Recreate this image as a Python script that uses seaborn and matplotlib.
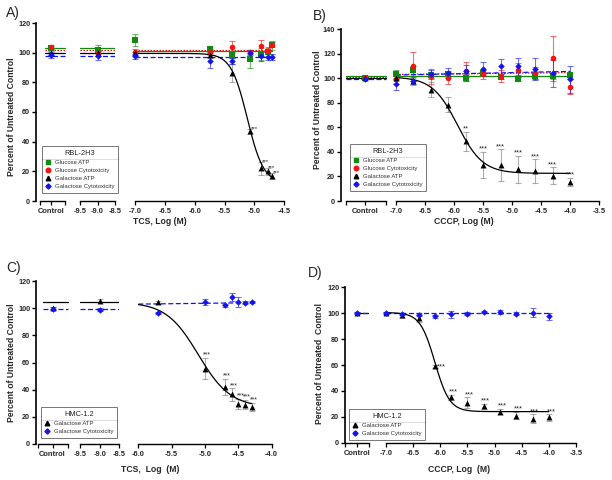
import numpy as np
import matplotlib
matplotlib.use("Agg")
import matplotlib.pyplot as plt
from matplotlib.lines import Line2D
import seaborn as sns

# Figure size in pixels (dpi 100)
W, H = 612, 480

# ---- series styles ----
SERIES = ["Glucose ATP", "Glucose Cytotoxicity", "Galactose ATP", "Galactose Cytotoxicity"]
COLORS = {"Glucose ATP": "#128a12", "Glucose Cytotoxicity": "#f01414",
          "Galactose ATP": "#000000", "Galactose Cytotoxicity": "#1414ee"}
MARKERS = {"Glucose ATP": "s", "Glucose Cytotoxicity": "o", "Galactose ATP": "^", "Galactose Cytotoxicity": "D"}
SIZES = {"Glucose ATP": 14, "Glucose Cytotoxicity": 16, "Galactose ATP": 18, "Galactose Cytotoxicity": 11}
LINESTYLES = {"Glucose ATP": "-", "Glucose Cytotoxicity": (0, (1.2, 1.2)),
              "Galactose ATP": "-", "Galactose Cytotoxicity": (0, (4, 2))}

# ---- Panel A: TCS, RBL-2H3 ----
A_X = [-7.0, -5.75, -5.37, -5.07, -4.89, -4.78, -4.70]
A_GLC_ATP = [108.5, 102.5, 98.5, 95.5, 99.0, 100.5, 105.0]
A_GLC_ATP_SD = [4, 1.5, 2, 6, 4, 3, 3]
A_GLC_CYT = [100.5, 100.5, 104.0, 100.5, 104.5, 101.0, 105.5]
A_GLC_CYT_SD = [2, 2, 4, 1.5, 4, 2, 2]
A_GAL_ATP = [99.5, 98.5, 86.5, 47.0, 22.0, 20.0, 17.0]
A_GAL_ATP_SD = [1, 2, 6, 1.5, 4.5, 2.5, 2]
A_GAL_CYT = [97.5, 94.5, 94.5, 100.0, 97.5, 97.0, 97.0]
A_GAL_CYT_SD = [1.5, 5, 2, 1.5, 3, 2, 2]
A_CTRL = [103.0, 104.0, 100.0, 98.5]
A_CTRL_SD = [1.5, 1.5, 1, 2]
A_LOW = [101.5, 100.0, 100.0, 98.0]      # at -9.0
A_LOW_SD = [4, 2, 1, 3]
A_SEG_FIT = [103.0, 101.5, 99.5, 98.0]   # fit levels drawn in the broken segments
A_MAIN_FIT = {"Glucose ATP": (101.0, 101.0), "Glucose Cytotoxicity": (102.0, 102.0),
              "Galactose Cytotoxicity": (97.0, 97.0)}
A_CURVE = (99.5, 12.0, -5.12, 3.2)       # top, bottom, logIC50, hill
A_STARS = ["***", "***", "***", "***"]
A_STAR_X = [-5.07, -4.89, -4.78, -4.70]

# ---- Panel B: CCCP, RBL-2H3 ----
B_X = [-7.0, -6.7, -6.4, -6.1, -5.8, -5.5, -5.2, -4.9, -4.6, -4.3, -4.0]
B_GLC_ATP = [103.5, 106.5, 102.5, 103.0, 100.5, 104.5, 101.0, 99.5, 101.5, 101.5, 102.5]
B_GLC_ATP_SD = [3, 3, 2, 2, 3, 2, 2, 1.5, 2, 2, 2]
B_GLC_CYT = [99.5, 109.5, 101.5, 100.5, 105.5, 103.0, 102.0, 107.0, 104.0, 116.0, 93.0]
B_GLC_CYT_SD = [4, 12, 6, 5, 8, 4, 5, 5, 5, 18, 6]
B_GAL_ATP = [100.5, 97.5, 90.5, 78.5, 48.5, 29.5, 29.0, 26.0, 24.5, 20.5, 15.5]
B_GAL_ATP_SD = [2, 3, 6, 6, 8, 10.5, 13, 11, 9.5, 7, 3.5]
B_GAL_CYT = [95.0, 98.0, 103.0, 104.0, 106.0, 107.5, 109.5, 109.5, 107.5, 104.0, 99.0]
B_GAL_CYT_SD = [4.5, 3, 4, 4, 5, 6, 6, 7, 9, 11, 11]
B_CTRL = [100.5, 100.0, 100.0, 99.5]
B_CTRL_SD = [1, 1, 1, 1]
B_SEG_FIT = [101.5, 100.8, 100.5, 99.0]
B_MAIN_FIT = {"Glucose ATP": (102.0, 102.0), "Glucose Cytotoxicity": (103.0, 104.5),
              "Galactose Cytotoxicity": (102.5, 105.5)}
B_CURVE = (101.0, 22.5, -5.94, 2.0)
B_STARS = ["**", "***", "***", "***", "***", "***", "***"]
B_STAR_X = [-5.8, -5.5, -5.2, -4.9, -4.6, -4.3, -4.0]

# ---- Panel C: TCS, HMC-1.2 ----
C_X = [-5.7, -5.0, -4.7, -4.6, -4.5, -4.4, -4.3]
C_GAL_ATP = [104.3, 55.5, 42.0, 36.5, 29.5, 29.0, 27.5]
C_GAL_ATP_SD = [1, 8, 6, 4.5, 3.5, 3.5, 3]
C_GAL_CYT = [96.5, 104.5, 102.0, 108.5, 104.5, 104.0, 104.5]
C_GAL_CYT_SD = [1, 2.5, 1, 3, 3.5, 1, 1]
C_CTRL = [100.0, 99.5]
C_CTRL_SD = [1, 1]
C_LOW = [105.5, 99.0]
C_LOW_SD = [1, 1]
C_SEG_FIT = [104.8, 99.3]
C_MAIN_FIT = {"Galactose Cytotoxicity": (103.0, 104.0)}
C_CURVE = (104.5, 27.0, -5.1, 1.8)
C_STARS = ["***"] * 6
C_STAR_X = [-5.0, -4.7, -4.6, -4.5, -4.4, -4.3]

# ---- Panel D: CCCP, HMC-1.2 ----
D_X = [-7.0, -6.7, -6.4, -6.1, -5.8, -5.5, -5.2, -4.9, -4.6, -4.3, -4.0]
D_GAL_ATP = [100.0, 98.5, 96.0, 59.0, 35.0, 31.0, 28.0, 24.0, 21.0, 18.5, 19.5]
D_GAL_ATP_SD = [1, 2, 3, 1, 2, 4, 2, 2, 3, 3.5, 2.5]
D_GAL_CYT = [100.0, 99.5, 98.8, 97.6, 99.0, 99.6, 100.8, 101.2, 99.7, 100.4, 97.6]
D_GAL_CYT_SD = [1, 1, 1, 1, 2.5, 1, 1, 1.5, 1, 3.5, 2.5]
D_CTRL = [100.0, 100.0]
D_CTRL_SD = [1, 1]
D_SEG_FIT = [100.5, 100.0]
D_MAIN_FIT = {"Galactose Cytotoxicity": (99.8, 99.8)}
D_CURVE = (100.5, 24.0, -6.1, 3.2)
D_STARS = ["***"] * 8
D_STAR_X = [-6.1, -5.8, -5.5, -5.2, -4.9, -4.6, -4.3, -4.0]

sns.set_theme(style="ticks")
plt.rcParams["font.family"] = ["Liberation Sans", "DejaVu Sans"]
plt.rcParams["axes.unicode_minus"] = False

fig = plt.figure(figsize=(W / 100, H / 100), dpi=100)


def make_axes(left, right, top, bottom):
    return fig.add_axes([left / W, 1 - bottom / H, (right - left) / W, (bottom - top) / H])


def style_axes(ax, ylim, xlim, ticks, labels, bounds, left=False, yticks=None):
    ax.set_xlim(*xlim)
    ax.set_ylim(*ylim)
    ax.patch.set_alpha(0)
    for s in ["top", "right"]:
        ax.spines[s].set_visible(False)
    ax.spines["bottom"].set_bounds(*bounds)
    ax.spines["bottom"].set_linewidth(1.0)
    ax.spines["bottom"].set_color("black")
    ax.set_xticks(ticks)
    ax.set_xticklabels(labels, fontsize=5.4, fontweight="bold")
    ax.set_xticks(list(bounds), minor=True)
    ax.tick_params(axis="x", which="both", length=3, width=0.9, pad=2, color="black")
    if left:
        ax.spines["left"].set_linewidth(1.2)
        ax.spines["left"].set_color("black")
        ax.set_yticks(yticks)
        ax.set_yticklabels([str(v) for v in yticks], fontsize=5.2, fontweight="bold")
        ax.tick_params(axis="y", length=3, width=1.0, pad=1.2, color="black")
    else:
        ax.spines["left"].set_visible(False)
        ax.set_yticks([])
    ax.set_xlabel("")
    ax.set_ylabel("")


def draw_points(ax, x, y, err, name):
    c = COLORS[name]
    ecol = "#777777" if name == "Galactose ATP" else c
    ax.errorbar(x, y, yerr=err, fmt="none", ecolor=ecol, alpha=0.6, elinewidth=0.8,
                capsize=2.0, capthick=0.8, clip_on=False, zorder=2)
    sns.scatterplot(x=x, y=y, ax=ax, color=c, marker=MARKERS[name], s=SIZES[name],
                    linewidth=0, clip_on=False, zorder=4, legend=False)


def draw_flat(ax, x0, x1, y0, y1, name):
    sns.lineplot(x=[x0, x1], y=[y0, y1], ax=ax, color=COLORS[name], linestyle=LINESTYLES[name],
                 linewidth=0.9, zorder=3, sort=False, errorbar=None)


def draw_curve(ax, x0, x1, params):
    top, bottom, logec, hill = params
    xs = np.linspace(x0, x1, 200)
    ys = bottom + (top - bottom) / (1 + 10 ** ((xs - logec) * hill))
    sns.lineplot(x=xs, y=ys, ax=ax, color="black", linewidth=0.9, zorder=3, sort=False, errorbar=None)


def draw_stars(ax, xs, texts, xvals, yvals, errs, mode, dx=0, dy=0.5, size=5.4):
    for xv, t in zip(xs, texts):
        i = xvals.index(xv)
        if mode == "right":
            xy, ha = (xv, yvals[i]), "left"
        elif mode == "topright":
            xy, ha = (xv, yvals[i] + errs[i]), "left"
        else:
            xy, ha = (xv, yvals[i] + errs[i]), "center"
        ax.annotate(t, xy, xytext=(dx, dy), textcoords="offset points", fontsize=size,
                    ha=ha, va="bottom", color="#222222", zorder=5)


def add_legend(names, title, x, y):
    handles = [Line2D([], [], marker=MARKERS[n], color=COLORS[n], linestyle="none",
                      markersize=3.3 if n != "Galactose Cytotoxicity" else 2.6) for n in names]
    leg = fig.legend(handles, names, title=title, loc="upper left",
                     bbox_to_anchor=(x / W, 1 - y / H), frameon=True, fancybox=False,
                     edgecolor="#555555", fontsize=4.3, title_fontsize=5.3,
                     handlelength=0.8, handletextpad=0.7, borderpad=0.6,
                     labelspacing=0.5, borderaxespad=0)
    leg.get_frame().set_linewidth(0.7)
    leg.get_title().set_color("#222222")
    for t in leg.get_texts():
        t.set_color("#333333")
    return leg


XLAB_STYLE = dict(fontsize=6.2, fontweight="bold", ha="center", va="center")

# ================= Panel A =================
ylimA = (0, 120)
a1 = make_axes(36, 66, 23, 201)
a2 = make_axes(80, 115, 23, 201)
a3 = make_axes(135, 284.3, 23, 201)
style_axes(a1, ylimA, (-1, 1), [0], ["Control"], (-0.73, 0.93), left=True, yticks=list(range(0, 121, 20)))
style_axes(a2, ylimA, (-9.5, -8.5), [-9.5, -9.0, -8.5], ["-9.5", "-9.0", "-8.5"], (-9.5, -8.5))
tA = [-7.0, -6.5, -6.0, -5.5, -5.0, -4.5]
style_axes(a3, ylimA, (-7.0, -4.5), tA, [f"{t:.1f}" for t in tA], (-7.0, -4.5))

A_DATA = {"Glucose ATP": (A_GLC_ATP, A_GLC_ATP_SD), "Glucose Cytotoxicity": (A_GLC_CYT, A_GLC_CYT_SD),
          "Galactose ATP": (A_GAL_ATP, A_GAL_ATP_SD), "Galactose Cytotoxicity": (A_GAL_CYT, A_GAL_CYT_SD)}
for i, n in enumerate(SERIES):
    draw_flat(a1, -0.4, 0.93, A_SEG_FIT[i], A_SEG_FIT[i], n)
    draw_flat(a2, -9.5, -8.5, A_SEG_FIT[i], A_SEG_FIT[i], n)
    if n in A_MAIN_FIT:
        draw_flat(a3, -7.0, A_X[-1], *A_MAIN_FIT[n], n)
draw_curve(a3, -7.0, A_X[-1], A_CURVE)
for i, n in enumerate(SERIES):
    draw_points(a1, [0], [A_CTRL[i]], [A_CTRL_SD[i]], n)
    draw_points(a2, [-9.0], [A_LOW[i]], [A_LOW_SD[i]], n)
    draw_points(a3, A_X, *A_DATA[n], n)
draw_stars(a3, A_STAR_X, A_STARS, A_X, A_GAL_ATP, A_GAL_ATP_SD, "topright", dx=0.3, dy=-1.5, size=4.5)

# ================= Panel B =================
ylimB = (0, 140)
b1 = make_axes(341, 389, 29, 201)
b2 = make_axes(396, 599.3, 29, 201)
style_axes(b1, ylimB, (-1, 1), [0], ["Control"], (-0.79, 0.875), left=True, yticks=list(range(0, 141, 20)))
tB = [-7.0, -6.5, -6.0, -5.5, -5.0, -4.5, -4.0, -3.5]
style_axes(b2, ylimB, (-7.0, -3.5), tB, [f"{t:.1f}" for t in tB], (-7.0, -3.5))

B_DATA = {"Glucose ATP": (B_GLC_ATP, B_GLC_ATP_SD), "Glucose Cytotoxicity": (B_GLC_CYT, B_GLC_CYT_SD),
          "Galactose ATP": (B_GAL_ATP, B_GAL_ATP_SD), "Galactose Cytotoxicity": (B_GAL_CYT, B_GAL_CYT_SD)}
for i, n in enumerate(SERIES):
    draw_flat(b1, -0.79, 0.875, B_SEG_FIT[i], B_SEG_FIT[i], n)
    if n in B_MAIN_FIT:
        draw_flat(b2, -7.0, B_X[-1], *B_MAIN_FIT[n], n)
draw_curve(b2, -7.0, B_X[-1], B_CURVE)
for i, n in enumerate(SERIES):
    draw_points(b1, [0], [B_CTRL[i]], [B_CTRL_SD[i]], n)
    draw_points(b2, B_X, *B_DATA[n], n)
draw_stars(b2, B_STAR_X, B_STARS, B_X, B_GAL_ATP, B_GAL_ATP_SD, "top", dx=0, dy=-0.5)

# ================= Panel C =================
NAMES_CD = ["Galactose ATP", "Galactose Cytotoxicity"]
ylimC = (0, 120)
c1 = make_axes(36, 69, 281, 444)
c2 = make_axes(80, 119.3, 281, 444)
c3 = make_axes(138.3, 271.7, 281, 444)
style_axes(c1, ylimC, (-1, 1), [0], ["Control"], (-0.88, 0.94), left=True, yticks=list(range(0, 121, 20)))
style_axes(c2, ylimC, (-9.5, -8.5), [-9.5, -9.0, -8.5], ["-9.5", "-9.0", "-8.5"], (-9.5, -8.5))
tC = [-6.0, -5.5, -5.0, -4.5, -4.0]
style_axes(c3, ylimC, (-6.0, -4.0), tC, [f"{t:.1f}" for t in tC], (-6.0, -4.0))

C_DATA = {"Galactose ATP": (C_GAL_ATP, C_GAL_ATP_SD), "Galactose Cytotoxicity": (C_GAL_CYT, C_GAL_CYT_SD)}
for i, n in enumerate(NAMES_CD):
    draw_flat(c1, -0.6, 0.94, C_SEG_FIT[i], C_SEG_FIT[i], n)
    draw_flat(c2, -9.5, -8.5, C_SEG_FIT[i], C_SEG_FIT[i], n)
    if n in C_MAIN_FIT:
        draw_flat(c3, -6.0, C_X[-1], *C_MAIN_FIT[n], n)
draw_curve(c3, -6.0, C_X[-1], C_CURVE)
for i, n in enumerate(NAMES_CD):
    draw_points(c1, [0], [C_CTRL[i]], [C_CTRL_SD[i]], n)
    draw_points(c2, [-9.0], [C_LOW[i]], [C_LOW_SD[i]], n)
    draw_points(c3, C_X, *C_DATA[n], n)
draw_stars(c3, C_STAR_X, C_STARS, C_X, C_GAL_ATP, C_GAL_ATP_SD, "top", dx=1.5, dy=-0.5, size=5.0)

# ================= Panel D =================
ylimD = (0, 120)
d1 = make_axes(345, 369, 287.3, 442.7)
d2 = make_axes(386, 576, 287.3, 442.7)
style_axes(d1, ylimD, (-1, 1), [0], ["Control"], (-1, 1), left=True, yticks=list(range(0, 121, 20)))
tD = [-7.0, -6.5, -6.0, -5.5, -5.0, -4.5, -4.0, -3.5]
style_axes(d2, ylimD, (-7.0, -3.5), tD, [f"{t:.1f}" for t in tD], (-7.0, -3.5))

D_DATA = {"Galactose ATP": (D_GAL_ATP, D_GAL_ATP_SD), "Galactose Cytotoxicity": (D_GAL_CYT, D_GAL_CYT_SD)}
for i, n in enumerate(NAMES_CD):
    draw_flat(d1, -0.2, 1.0, D_SEG_FIT[i], D_SEG_FIT[i], n)
    if n in D_MAIN_FIT:
        draw_flat(d2, -7.0, D_X[-1], *D_MAIN_FIT[n], n)
draw_curve(d2, -7.0, D_X[-1], D_CURVE)
for i, n in enumerate(NAMES_CD):
    draw_points(d1, [0], [D_CTRL[i]], [D_CTRL_SD[i]], n)
    draw_points(d2, D_X, *D_DATA[n], n)
draw_stars(d2, D_STAR_X[:1], D_STARS[:1], D_X, D_GAL_ATP, D_GAL_ATP_SD, "right", dx=1.5, dy=-3)
draw_stars(d2, D_STAR_X[1:], D_STARS[1:], D_X, D_GAL_ATP, D_GAL_ATP_SD, "top", dx=1.5, dy=-0.5)

# ---- labels ----
fig.text(160 / W, 1 - 221 / H, "TCS, Log (M)", **XLAB_STYLE)
fig.text(464 / W, 1 - 222 / H, "CCCP, Log (M)", **XLAB_STYLE)
fig.text(150 / W, 1 - 469 / H, "TCS,  Log  (M)", **XLAB_STYLE)
fig.text(459 / W, 1 - 469 / H, "CCCP, Log  (M)", **XLAB_STYLE)
YLAB_STYLE = dict(fontsize=6.2, fontweight="bold", ha="center", va="center", rotation=90)
fig.text(12 / W, 1 - 117 / H, "Percent of Untreated Control", **YLAB_STYLE)
fig.text(318 / W, 1 - 110 / H, "Percent of Untreated Control", **YLAB_STYLE)
fig.text(12 / W, 1 - 363 / H, "Percent of Untreated Control", **YLAB_STYLE)
fig.text(320 / W, 1 - 363 / H, "Percent of Untreated  Control", **YLAB_STYLE)
for x, y, s in [(6, 13, "A)"), (313, 16, "B)"), (6, 268, "C)"), (308, 273, "D)")]:
    fig.text(x / W, 1 - y / H, s, fontsize=10, ha="left", va="center")

# ---- legends with header line ----
legends = [add_legend(SERIES, "RBL-2H3", 42, 146), add_legend(SERIES, "RBL-2H3", 350, 144),
           add_legend(NAMES_CD, "HMC-1.2", 41, 407), add_legend(NAMES_CD, "HMC-1.2", 349, 409)]
fig.canvas.draw()
renderer = fig.canvas.get_renderer()
for leg in legends:
    box = leg.get_window_extent(renderer)
    tb = leg.get_title().get_window_extent(renderer)
    yline = (tb.y0 - 2.5) / H
    fig.add_artist(Line2D([box.x0 / W, box.x1 / W], [yline, yline], transform=fig.transFigure,
                          color="#555555", linewidth=0.7))

fig.savefig("out.png", dpi=100)
